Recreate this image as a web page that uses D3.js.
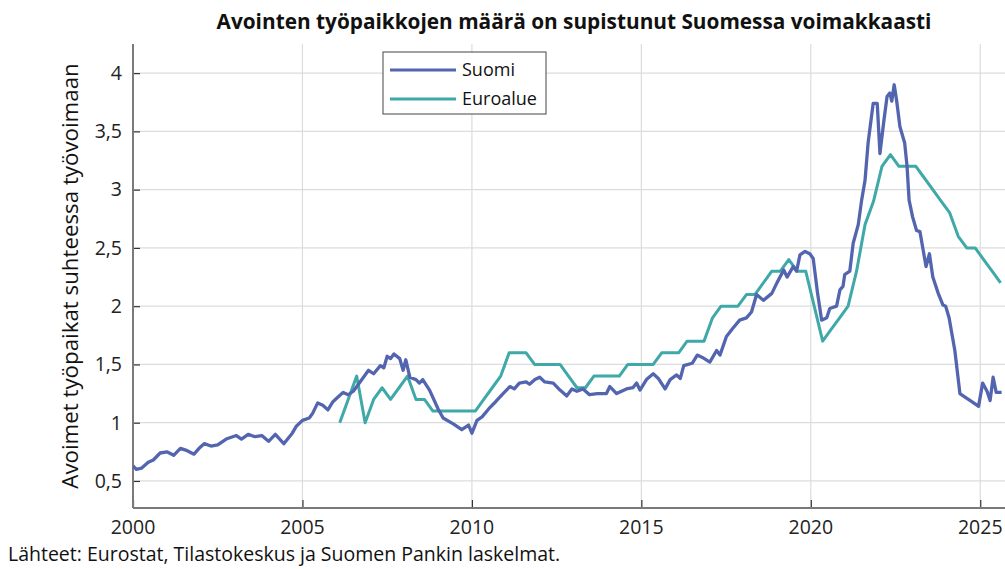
<!DOCTYPE html>
<html>
<head>
<meta charset="utf-8">
<script src="https://cdn.jsdelivr.net/npm/d3@7"></script>
<style>
  body { margin: 0; background: #fff; }
  svg { display: block; font-family: "Open Sans", sans-serif; }
</style>
</head>
<body>
<div id="container"></div>
<script>
// Suomi: [year, value] points
const suomi = [
  [2000.00, 0.63], [2000.10, 0.60], [2000.25, 0.61], [2000.45, 0.66], [2000.60, 0.68],
  [2000.80, 0.74], [2001.00, 0.75], [2001.20, 0.72], [2001.40, 0.78], [2001.60, 0.76],
  [2001.80, 0.73], [2001.95, 0.78], [2002.10, 0.82], [2002.30, 0.80], [2002.50, 0.81],
  [2002.75, 0.86], [2003.05, 0.89], [2003.20, 0.86], [2003.40, 0.90], [2003.60, 0.88],
  [2003.80, 0.89], [2004.00, 0.84], [2004.20, 0.90], [2004.45, 0.82], [2004.70, 0.91],
  [2004.82, 0.97], [2005.00, 1.02], [2005.20, 1.04], [2005.30, 1.08], [2005.45, 1.17],
  [2005.60, 1.15], [2005.75, 1.11], [2005.90, 1.18], [2006.05, 1.22], [2006.20, 1.26],
  [2006.35, 1.24], [2006.50, 1.27], [2006.70, 1.35], [2006.95, 1.45], [2007.10, 1.42],
  [2007.30, 1.49], [2007.40, 1.47], [2007.50, 1.57], [2007.60, 1.55], [2007.70, 1.59],
  [2007.87, 1.55], [2007.97, 1.45], [2008.05, 1.54], [2008.17, 1.39], [2008.35, 1.37],
  [2008.45, 1.34], [2008.55, 1.37], [2008.75, 1.28], [2009.00, 1.12], [2009.15, 1.04],
  [2009.45, 0.99], [2009.70, 0.94], [2009.90, 0.98], [2010.00, 0.91], [2010.15, 1.02],
  [2010.30, 1.05], [2010.50, 1.12], [2010.70, 1.18], [2010.92, 1.25], [2011.12, 1.31],
  [2011.25, 1.29], [2011.40, 1.34], [2011.60, 1.35], [2011.70, 1.33], [2011.86, 1.37],
  [2012.00, 1.39], [2012.15, 1.35], [2012.40, 1.34], [2012.60, 1.28], [2012.80, 1.23],
  [2012.95, 1.29], [2013.10, 1.27], [2013.28, 1.29], [2013.47, 1.24], [2013.70, 1.25],
  [2013.97, 1.25], [2014.07, 1.31], [2014.27, 1.25], [2014.56, 1.29], [2014.75, 1.30],
  [2014.86, 1.34], [2014.96, 1.28], [2015.15, 1.37], [2015.35, 1.42], [2015.50, 1.38],
  [2015.70, 1.29], [2015.85, 1.37], [2016.04, 1.41], [2016.15, 1.38], [2016.25, 1.49],
  [2016.50, 1.51], [2016.65, 1.58], [2016.80, 1.56], [2017.02, 1.52], [2017.22, 1.62],
  [2017.32, 1.58], [2017.51, 1.74], [2017.70, 1.81], [2017.90, 1.88], [2018.10, 1.90],
  [2018.25, 1.95], [2018.40, 2.10], [2018.60, 2.05], [2018.85, 2.11], [2019.00, 2.20],
  [2019.20, 2.31], [2019.30, 2.25], [2019.48, 2.34], [2019.58, 2.30], [2019.68, 2.44],
  [2019.83, 2.47], [2019.97, 2.45], [2020.07, 2.41], [2020.20, 2.11], [2020.32, 1.88],
  [2020.47, 1.90], [2020.56, 1.98], [2020.76, 2.00], [2020.86, 2.14], [2020.95, 2.17],
  [2021.00, 2.27], [2021.15, 2.30], [2021.25, 2.54], [2021.40, 2.70], [2021.50, 2.91],
  [2021.60, 3.08], [2021.69, 3.40], [2021.84, 3.74], [2021.96, 3.74], [2022.04, 3.31],
  [2022.16, 3.60], [2022.25, 3.80], [2022.33, 3.83], [2022.39, 3.76], [2022.46, 3.90],
  [2022.53, 3.77], [2022.63, 3.54], [2022.77, 3.40], [2022.84, 3.20], [2022.90, 2.91],
  [2023.00, 2.77], [2023.12, 2.65], [2023.22, 2.64], [2023.40, 2.34], [2023.50, 2.45],
  [2023.60, 2.25], [2023.76, 2.11], [2023.90, 2.01], [2023.98, 2.00], [2024.08, 1.90],
  [2024.25, 1.62], [2024.40, 1.25], [2024.55, 1.22], [2024.75, 1.18], [2024.90, 1.15],
  [2024.95, 1.14], [2025.07, 1.34], [2025.20, 1.27], [2025.29, 1.19], [2025.38, 1.39],
  [2025.47, 1.26], [2025.63, 1.26]
];

// Euroalue: quarterly values from 2006Q1
const euroStartYear = 2006;
const euroValues = [
  1.0, 1.2, 1.4, 1.0,   // 2006
  1.2, 1.3, 1.2, 1.3,   // 2007
  1.4, 1.2, 1.2, 1.1,   // 2008
  1.1, 1.1, 1.1, 1.1,   // 2009
  1.1, 1.2, 1.3, 1.4,   // 2010
  1.6, 1.6, 1.6, 1.5,   // 2011
  1.5, 1.5, 1.5, 1.4,   // 2012
  1.3, 1.3, 1.4, 1.4,   // 2013
  1.4, 1.4, 1.5, 1.5,   // 2014
  1.5, 1.5, 1.6, 1.6,   // 2015
  1.6, 1.7, 1.7, 1.7,   // 2016
  1.9, 2.0, 2.0, 2.0,   // 2017
  2.1, 2.1, 2.2, 2.3,   // 2018
  2.3, 2.4, 2.3, 2.3,   // 2019
  2.0, 1.7, 1.8, 1.9,   // 2020
  2.0, 2.3, 2.7, 2.9,   // 2021
  3.2, 3.3, 3.2, 3.2,   // 2022
  3.2, 3.1, 3.0, 2.9,   // 2023
  2.8, 2.6, 2.5, 2.5,   // 2024
  2.4, 2.3, 2.2         // 2025
];

const xTicks = [2000, 2005, 2010, 2015, 2020, 2025];
const yTicks = [0.5, 1, 1.5, 2, 2.5, 3, 3.5, 4];
const seriesNames = ['Suomi', 'Euroalue'];
const seriesColors = ['#5465b0', '#3fa8a8'];

const titleText = 'Avointen työpaikkojen määrä on supistunut Suomessa voimakkaasti';
const yLabelText = 'Avoimet työpaikat suhteessa työvoimaan';
const sourceText = 'Lähteet: Eurostat, Tilastokeskus ja Suomen Pankin laskelmat.';

const width = 1005, height = 569;
const margin = { top: 44, right: 0, bottom: 61, left: 133 };

const euro = euroValues.map((v, i) => [euroStartYear + i * 0.25 + 0.1, v]);

const svg = d3.select('#container').append('svg')
  .attr('width', width)
  .attr('height', height);

const x = d3.scaleLinear()
  .domain([2000, 2025.73])
  .range([margin.left, width - margin.right]);

const y = d3.scaleLinear()
  .domain([0.268, 4.25])
  .range([height - margin.bottom, margin.top]);

// gridlines
svg.append('g')
  .selectAll('line.hgrid')
  .data(yTicks)
  .enter().append('line')
  .attr('x1', margin.left).attr('x2', width)
  .attr('y1', d => y(d)).attr('y2', d => y(d))
  .attr('stroke', '#dcdcdc').attr('stroke-width', 1.2);

svg.append('g')
  .selectAll('line.vgrid')
  .data(xTicks.slice(1))
  .enter().append('line')
  .attr('x1', d => x(d)).attr('x2', d => x(d))
  .attr('y1', margin.top).attr('y2', height - margin.bottom)
  .attr('stroke', '#dcdcdc').attr('stroke-width', 1.2);

// axes (ticks pointing inward)
const fmt = d => String(d).replace('.', ',');

const yAxis = svg.append('g')
  .attr('transform', `translate(${margin.left},0)`)
  .call(d3.axisRight(y).tickValues(yTicks).tickSize(7).tickFormat(''));
yAxis.select('.domain').remove();
yAxis.selectAll('.tick line').attr('stroke', '#333').attr('stroke-width', 1.2);

svg.append('g')
  .selectAll('text.ylab')
  .data(yTicks)
  .enter().append('text')
  .attr('x', margin.left - 11)
  .attr('y', d => y(d))
  .attr('dy', '0.35em')
  .attr('text-anchor', 'end')
  .attr('font-size', 19.5)
  .attr('fill', '#222')
  .text(fmt);

const xAxis = svg.append('g')
  .attr('transform', `translate(0,${height - margin.bottom})`)
  .call(d3.axisTop(x).tickValues(xTicks).tickSize(8).tickFormat(''));
xAxis.select('.domain').remove();
xAxis.selectAll('.tick line').attr('stroke', '#333').attr('stroke-width', 1.2);

svg.append('g')
  .selectAll('text.xlab')
  .data(xTicks)
  .enter().append('text')
  .attr('x', d => x(d))
  .attr('y', height - margin.bottom + 26)
  .attr('text-anchor', 'middle')
  .attr('font-size', 19.5)
  .attr('fill', '#222')
  .text(d => d);

// axis lines
svg.append('line')
  .attr('x1', margin.left).attr('x2', margin.left)
  .attr('y1', margin.top).attr('y2', height - margin.bottom)
  .attr('stroke', '#7a7a7a').attr('stroke-width', 2);
svg.append('line')
  .attr('x1', margin.left).attr('x2', width)
  .attr('y1', height - margin.bottom).attr('y2', height - margin.bottom)
  .attr('stroke', '#7a7a7a').attr('stroke-width', 2);

// lines
svg.append('defs').append('clipPath').attr('id', 'plot')
  .append('rect')
  .attr('x', margin.left).attr('y', margin.top)
  .attr('width', width - margin.left).attr('height', height - margin.bottom - margin.top);

const line = d3.line().x(d => x(d[0])).y(d => y(d[1]));

const plot = svg.append('g').attr('clip-path', 'url(#plot)');

plot.append('path')
  .datum(euro)
  .attr('fill', 'none')
  .attr('stroke', seriesColors[1])
  .attr('stroke-width', 3)
  .attr('stroke-linejoin', 'round')
  .attr('d', line);

plot.append('path')
  .datum(suomi)
  .attr('fill', 'none')
  .attr('stroke', seriesColors[0])
  .attr('stroke-width', 3.3)
  .attr('stroke-linejoin', 'round')
  .attr('d', line);

// legend
const legend = svg.append('g').attr('transform', 'translate(383,52)');
legend.append('rect')
  .attr('width', 163).attr('height', 62)
  .attr('fill', '#fff')
  .attr('stroke', '#444').attr('stroke-width', 1);

seriesNames.forEach((name, i) => {
  const ly = 18 + i * 29;
  legend.append('line')
    .attr('x1', 7).attr('x2', 73)
    .attr('y1', ly).attr('y2', ly)
    .attr('stroke', seriesColors[i]).attr('stroke-width', 3.2);
  legend.append('text')
    .attr('x', 79).attr('y', ly)
    .attr('dy', '0.35em')
    .attr('font-size', 18)
    .attr('fill', '#111')
    .text(name);
});

// texts
svg.append('text')
  .attr('x', 574).attr('y', 29)
  .attr('text-anchor', 'middle')
  .attr('font-size', 20.8)
  .attr('font-weight', 'bold')
  .attr('fill', '#111')
  .text(titleText);

svg.append('text')
  .attr('transform', `translate(78,${(margin.top + height - margin.bottom) / 2}) rotate(-90)`)
  .attr('text-anchor', 'middle')
  .attr('font-size', 22.3)
  .attr('fill', '#111')
  .text(yLabelText);

svg.append('text')
  .attr('x', 8).attr('y', 561)
  .attr('font-size', 19.5)
  .attr('fill', '#111')
  .text(sourceText);
</script>
</body>
</html>
